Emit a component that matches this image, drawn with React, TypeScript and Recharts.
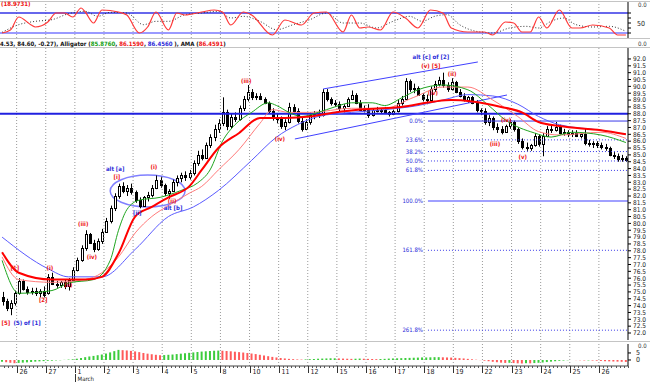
import React from 'react'
import {
  ComposedChart,
  Bar,
  Line,
  XAxis,
  YAxis,
  ReferenceLine,
  ReferenceDot,
  ReferenceArea,
  Cell,
} from 'recharts'

// hourly bars, 7 per session, first 4 bars belong to the session before "26"
const barsPerDay = 7
const firstDayBar = 4
const dayLabels = ['26', '27', '1', '2', '3', '4', '5', '8', '10', '11', '12', '15', '16', '17', '18', '19', '22', '23', '24', '25', '26']

const open = [
  74.6, 74.3, 73.8, 74.2,
  74.9, 75.8, 75.2, 75.0, 75.1, 74.9, 75.1,
  74.9, 76.1, 75.6, 75.5, 75.7, 75.4, 75.9,
  76.6, 77.3, 78.2, 79.2, 78.6, 78.1, 78.7,
  79.4, 80.2, 81.1, 82.0, 82.7, 82.4, 82.6,
  82.3, 81.7, 81.3, 81.9, 82.1, 82.6, 83.2,
  82.8, 82.2, 82.4, 83.0, 83.3, 83.5, 83.4,
  83.7, 84.4, 85.0, 84.8, 85.7, 86.3, 86.9,
  87.3, 88.1, 87.1, 87.8, 87.6, 88.4, 89.1,
  89.6, 89.2, 89.3, 89.1, 88.8, 88.2, 87.7,
  87.6, 87.1, 87.4, 88.5, 88.2, 87.5, 86.9,
  87.4, 87.9, 88.0, 87.9, 89.6, 89.1, 88.8,
  88.7, 88.4, 88.6, 89.1, 89.4, 88.8, 88.3,
  88.4, 87.9, 88.3, 88.2, 88.3, 88.1, 88.0,
  88.2, 88.8, 89.1, 90.4, 89.8, 89.9, 89.4,
  89.1, 89.0, 89.8, 90.2, 90.5, 90.1, 89.8,
  90.3, 89.6, 89.3, 89.0, 89.2, 88.8, 88.3,
  88.2, 87.4, 87.7, 87.0, 86.9, 86.7, 87.1,
  87.4, 86.9, 86.0, 85.6, 85.5, 85.7, 86.4,
  85.8, 86.4, 86.9, 86.8, 87.0, 86.6, 86.7,
  86.5, 86.6, 86.4, 86.5, 85.9, 85.8, 85.9,
  85.7, 85.6, 85.5, 85.0, 84.9, 84.7, 84.8,
]
const high = [
  75.0, 74.5, 74.4, 75.1,
  76.0, 75.9, 75.4, 75.3, 75.3, 75.2, 75.4,
  76.3, 76.4, 75.8, 75.8, 75.9, 76.0, 76.8,
  77.5, 78.4, 79.5, 79.3, 78.8, 78.9, 79.6,
  80.4, 81.3, 82.2, 82.9, 83.0, 82.8, 82.9,
  82.4, 81.9, 82.0, 82.3, 82.8, 83.5, 83.4,
  82.9, 82.5, 83.2, 83.5, 83.7, 83.8, 83.9,
  84.6, 85.3, 85.4, 85.9, 86.5, 87.2, 87.6,
  89.2, 88.3, 88.0, 88.1, 88.6, 89.3, 90.1,
  89.8, 89.5, 89.5, 89.2, 88.9, 88.4, 88.0,
  87.8, 87.6, 88.8, 88.7, 88.4, 87.7, 87.6,
  88.1, 88.2, 88.3, 89.8, 89.8, 89.2, 89.0,
  88.9, 88.7, 89.2, 89.7, 89.5, 89.0, 88.6,
  88.7, 88.4, 88.5, 88.4, 88.5, 88.2, 88.3,
  89.0, 89.3, 90.6, 90.5, 90.2, 90.0, 89.5,
  89.4, 90.0, 90.4, 90.7, 91.0, 90.3, 90.6,
  90.4, 89.8, 89.5, 89.3, 89.3, 89.0, 88.4,
  88.4, 87.9, 87.8, 87.3, 87.1, 87.2, 87.6,
  87.5, 87.0, 86.2, 85.9, 85.8, 86.6, 86.5,
  86.6, 87.1, 87.2, 87.4, 87.2, 86.9, 86.8,
  86.8, 86.8, 86.6, 86.9, 86.1, 86.0, 86.0,
  85.9, 85.8, 85.6, 85.2, 85.1, 85.0, 84.9,
]
const low = [
  74.0, 73.6, 73.3, 74.0,
  74.8, 75.1, 74.8, 74.8, 74.7, 74.6, 74.6,
  74.8, 75.5, 75.3, 75.3, 75.2, 75.1, 75.8,
  76.5, 77.2, 78.0, 78.5, 77.9, 78.0, 78.5,
  79.3, 80.0, 80.9, 81.8, 82.2, 82.0, 82.1,
  81.5, 81.1, 81.2, 81.6, 81.9, 82.5, 82.6,
  82.0, 81.8, 82.3, 82.7, 83.0, 83.1, 83.2,
  83.5, 84.2, 84.6, 84.7, 85.5, 86.0, 86.6,
  87.1, 86.8, 86.9, 87.4, 87.5, 88.2, 88.9,
  89.0, 89.0, 89.0, 88.7, 88.0, 87.5, 87.3,
  86.9, 86.8, 87.3, 88.0, 87.3, 86.7, 86.8,
  87.2, 87.6, 87.7, 87.8, 88.9, 88.6, 88.5,
  88.2, 88.1, 88.5, 89.0, 88.7, 88.2, 88.1,
  87.7, 87.8, 88.1, 88.0, 88.0, 87.8, 87.9,
  88.1, 88.6, 89.0, 89.6, 89.5, 89.3, 88.9,
  88.7, 88.9, 89.6, 90.0, 89.9, 89.6, 89.7,
  89.5, 89.2, 88.9, 88.8, 88.7, 88.1, 87.9,
  87.2, 87.1, 86.8, 86.6, 86.5, 86.6, 86.9,
  86.7, 85.8, 85.4, 85.3, 85.3, 85.6, 85.6,
  84.9, 86.3, 86.6, 86.7, 86.5, 86.4, 86.3,
  86.3, 86.3, 86.2, 85.7, 85.6, 85.5, 85.5,
  85.4, 85.3, 84.9, 84.7, 84.5, 84.5, 84.5,
]
const close = [
  74.3, 73.8, 74.2, 74.9,
  75.8, 75.2, 75.0, 75.1, 74.9, 75.1, 74.8,
  76.1, 75.6, 75.5, 75.7, 75.4, 75.9, 76.6,
  77.3, 78.2, 79.2, 78.6, 78.1, 78.7, 79.4,
  80.2, 81.1, 82.0, 82.7, 82.4, 82.6, 82.3,
  81.7, 81.3, 81.9, 82.1, 82.6, 83.2, 82.8,
  82.2, 82.4, 83.0, 83.3, 83.5, 83.4, 83.7,
  84.4, 85.0, 84.8, 85.7, 86.3, 86.9, 87.3,
  88.1, 87.1, 87.8, 87.6, 88.4, 89.1, 89.6,
  89.2, 89.3, 89.1, 88.8, 88.2, 87.7, 87.6,
  87.1, 87.4, 88.5, 88.2, 87.5, 86.9, 87.4,
  87.9, 88.0, 87.9, 89.6, 89.1, 88.8, 88.7,
  88.4, 88.6, 89.1, 89.4, 88.8, 88.3, 88.4,
  87.9, 88.3, 88.2, 88.3, 88.1, 88.0, 88.2,
  88.8, 89.1, 90.4, 89.8, 89.9, 89.4, 89.1,
  89.0, 89.8, 90.2, 90.5, 90.1, 89.8, 90.3,
  89.6, 89.3, 89.0, 89.2, 88.8, 88.3, 88.2,
  87.4, 87.7, 87.0, 86.9, 86.7, 87.1, 87.4,
  86.9, 86.0, 85.6, 85.5, 85.7, 86.4, 85.8,
  86.4, 86.9, 86.8, 87.0, 86.6, 86.7, 86.5,
  86.6, 86.4, 86.5, 85.9, 85.8, 85.9, 85.7,
  85.6, 85.5, 85.0, 84.9, 84.7, 84.8, 84.6,
]

// Alligator (jaw / teeth / lips) and AMA, read at selected bars
const jawBars = [0, 11, 16, 24, 32, 40, 46, 52, 60, 66, 71, 76, 84, 92, 100, 106, 112, 118, 124, 129, 134, 144, 150]
const jawValues = [79.0, 76.7, 76.1, 76.1, 78.1, 80.5, 81.2, 82.4, 84.6, 86.3, 87.2, 87.8, 88.1, 88.3, 88.6, 89.0, 89.4, 89.3, 88.7, 87.8, 87.2, 86.8, 86.5]
const teethBars = [0, 4, 12, 20, 24, 28, 32, 36, 40, 45, 48, 52, 57, 62, 65, 69, 74, 84, 92, 99, 106, 112, 118, 124, 129, 134, 144, 150]
const teethValues = [77.55, 75.9, 75.7, 75.9, 76.4, 77.55, 79.3, 80.5, 81.3, 82.2, 82.7, 83.9, 85.4, 87.3, 88.3, 88.1, 88.1, 88.4, 88.4, 89.2, 89.95, 89.95, 89.0, 87.8, 86.7, 86.45, 86.65, 86.2]
const lipsBars = [0, 4, 12, 16, 22, 26, 28, 30, 33, 38, 43, 47, 50, 53, 56, 60, 64, 66, 69, 72, 76, 80, 84, 89, 92, 96, 100, 106, 112, 117, 121, 128, 132, 137, 144, 150]
const lipsValues = [77.3, 74.9, 75.1, 75.65, 75.9, 77.3, 79.5, 81.0, 81.7, 81.9, 82.4, 82.95, 83.9, 86.0, 87.2, 88.1, 88.8, 88.6, 88.1, 87.8, 88.1, 88.5, 88.8, 88.8, 88.6, 89.15, 89.75, 90.1, 89.75, 88.6, 87.55, 86.6, 86.3, 86.65, 86.45, 85.9]
const amaBars = [0, 4, 12, 20, 24, 28, 32, 36, 40, 45, 48, 52, 57, 62, 68, 74, 80, 88, 96, 104, 108, 113, 120, 125, 129, 134, 144, 150]
const amaValues = [77.9, 76.4, 75.9, 75.9, 76.1, 77.8, 80.5, 81.2, 81.9, 82.7, 83.9, 85.5, 86.6, 87.7, 87.7, 87.8, 88.1, 88.35, 88.5, 88.9, 89.0, 88.9, 88.5, 88.1, 87.4, 87.1, 86.8, 86.5]

// stochastic %K / %D (top panel)
const kBars = [0, 2, 4, 7, 8, 11, 13, 15, 17, 19, 20, 22, 24, 28, 30, 33, 35, 37, 40, 42, 44, 48, 51, 53, 55, 58, 60, 65, 68, 72, 75, 78, 82, 84, 86, 88, 91, 94, 97, 100, 103, 106, 108, 112, 116, 118, 121, 123, 125, 127, 129, 131, 134, 137, 139, 142, 146, 148, 150]
const kValues = [20, 29, 68, 44, 38, 53, 80, 80, 68, 95, 83, 50, 89, 83, 74, 20, 38, 83, 29, 80, 74, 83, 89, 83, 44, 83, 74, 14, 59, 44, 80, 83, 23, 74, 35, 38, 29, 83, 65, 35, 89, 80, 35, 23, 23, 14, 53, 50, 23, 23, 68, 35, 89, 35, 35, 44, 35, 14, 14]
const dBars = [0, 4, 8, 12, 16, 20, 23, 26, 30, 34, 37, 40, 44, 48, 52, 55, 58, 62, 66, 70, 74, 78, 82, 86, 90, 94, 98, 101, 104, 107, 110, 114, 118, 122, 126, 129, 132, 135, 138, 142, 146, 150]
const dValues = [22, 45, 55, 60, 78, 85, 70, 82, 80, 45, 55, 55, 75, 80, 85, 65, 70, 55, 30, 45, 60, 80, 50, 50, 35, 55, 70, 55, 70, 75, 45, 25, 20, 35, 40, 35, 55, 65, 45, 38, 40, 25]

// histogram (bottom panel)
const histo = [
  -1.2, -1.6, -2.0, -2.3,
  -2.1, -1.9, -1.7, -1.4, -1.2, -1.0, -0.8,
  -0.6, -0.5, -0.3, -0.2, 0.1, 0.3, 0.5,
  0.9, 1.4, 2.0, 2.5, 2.9, 3.4, 3.9,
  4.6, 5.4, 6.3, 7.2, 7.0, 6.8, 6.5,
  6.1, 5.6, 5.0, 4.5, 4.1, 3.7, 3.4,
  3.5, 3.7, 3.9, 4.2, 4.5, 4.8, 5.1,
  5.4, 5.7, 6.0, 6.2, 6.4, 6.6, 6.7,
  6.6, 6.4, 6.2, 5.9, 5.6, 5.3, 5.0,
  4.6, 4.2, 3.7, 3.2, 2.7, 2.2, 1.8,
  1.4, 1.1, 0.8, 0.6, 0.4, 0.3, 0.4,
  0.6, 0.7, 0.9, 1.0, 1.1, 1.2, 1.2,
  1.1, 1.0, 0.9, 0.8, 0.9, 1.0, 0.9,
  0.8, 0.7, 0.6, 0.7, 0.8, 1.0, 1.1,
  1.2, 1.3, 1.4, 1.5, 1.6, 1.7, 1.8,
  1.8, 1.9, 2.0, 2.0, 1.9, 1.8, 1.7,
  1.5, 1.3, 1.1, 0.8, 0.5, 0.2, -0.1,
  -0.5, -0.9, -1.3, -1.6, -1.9, -2.1, -2.0,
  -2.2, -2.4, -2.5, -2.3, -2.4, -2.2, -2.0,
  -1.8, -1.5, -1.2, -0.9, -0.6, -0.4, -0.2,
  0.0, -0.1, -0.2, -0.3, -0.3, -0.4, -0.5,
  -0.7, -0.9, -1.0, -1.1, -1.2, -1.3, -1.4,
]

// annotations
const keyLevel = 88.0
const fibTop = 87.47
const fibBottom = 81.64
const fibRatios = [0, 23.6, 38.2, 50, 61.8, 100, 161.8, 261.8]
const fibStartBar = 102.4
const upperChanBars = [77.2, 114.4]
const upperChanPrices = [89.81, 91.78]
const lowerChanBars = [70.4, 121.4]
const lowerChanPrices = [86.16, 89.37]
const ellipseBars = [26, 44]
const ellipsePrices = [81.2, 83.53]

const waveText = ['[5]', '(5) of [1]', '[1]', '(i)', '[2]', '(ii)', '(iii)', '(iv)', 'alt [a]', '[i]', '(i)', '[ii]', '(ii)', 'alt [b]', '(iii)', '(iv)', 'alt [c] of [2]', '(v) [5]', '(iv)', '(ii)', '(iii)', '(iv)', '(v)']
const waveBar = [0.9, 6, 3.1, 11.5, 9.9, 15.9, 19.5, 21.6, 27.2, 27.6, 36.5, 32.5, 40.9, 41.1, 58.7, 66.8, 103.1, 103.1, 103.6, 108.2, 118.5, 121.2, 125.2]
const wavePrice = [72.73, 72.73, 76.74, 76.74, 74.41, 75.5, 79.96, 77.55, 83.97, 83.39, 84.12, 80.76, 81.64, 81.12, 90.39, 86.16, 92.15, 91.49, 89.52, 90.9, 85.8, 87.55, 84.85]
const waveAlt = [false, true, false, false, false, false, false, false, true, false, false, true, false, true, false, false, true, false, false, false, false, false, false]

const N = close.length
const domainX: [number, number] = [-0.5, N - 0.5]
const dayStarts = dayLabels.map((_, k) => firstDayBar + k * barsPerDay - 0.5)
const boundaries = Array.from({ length: N }, (_, i) => i + 0.5)
const priceTicks = Array.from({ length: 41 }, (_, k) => 72 + k * 0.5)

const toMap = (bars: number[], vals: number[]) => new Map(bars.map((b, k) => [b, vals[k]]))
const jawMap = toMap(jawBars, jawValues)
const teethMap = toMap(teethBars, teethValues)
const lipsMap = toMap(lipsBars, lipsValues)
const amaMap = toMap(amaBars, amaValues)
const kMap = toMap(kBars, kValues)
const dMap = toMap(dBars, dValues)

const rows = close.map((c, i) => ({
  i,
  open: open[i],
  high: high[i],
  low: low[i],
  close: c,
  range: [low[i], high[i]],
  jaw: jawMap.get(i) ?? null,
  teeth: teethMap.get(i) ?? null,
  lips: lipsMap.get(i) ?? null,
  ama: amaMap.get(i) ?? null,
  k: kMap.get(i) ?? null,
  d: dMap.get(i) ?? null,
  histo: histo[i],
}))

const FONT = "'DejaVu Sans Condensed', 'DejaVu Sans', sans-serif"
const RED = '#ee1111'
const BLUE = '#2a2ad8'

function Candle(props: any) {
  const { x, y, width, height } = props
  const d = props.payload ?? props
  if (d == null || x == null) return null
  const top = Math.min(y, y + height)
  const h = Math.abs(height)
  const span = d.high - d.low || 1
  const py = (v: number) => top + ((d.high - v) / span) * h
  const c = Math.round(x + width / 2) + 0.5
  const up = d.close >= d.open
  const bTop = Math.round(py(Math.max(d.open, d.close))) + 0.5
  const bBot = Math.round(py(Math.min(d.open, d.close))) + 0.5
  return (
    <g>
      <line x1={c} x2={c} y1={top} y2={top + h} stroke="#000" strokeWidth={1} />
      <rect x={c - 1} y={bTop} width={2} height={Math.max(bBot - bTop, 1)} fill={up ? '#fff' : '#000'} stroke="#000" strokeWidth={1} />
    </g>
  )
}

function DateTick(props: any) {
  const { x, y, payload } = props
  const k = dayStarts.indexOf(payload.value)
  const px = Math.round(x) + 0.5
  if (k < 0) return <line x1={px} x2={px} y1={y} y2={y + 2} stroke="#555" />
  return (
    <g>
      <line x1={px} x2={px} y1={y} y2={y + 7} stroke="#333" />
      <text x={px + 2} y={y + 8} fontSize={7} fontFamily={FONT} fill="#222">
        {dayLabels[k]}
      </text>
      {dayLabels[k] === '1' && (
        <g>
          <line x1={px} x2={px} y1={y + 8} y2={y + 16} stroke="#333" />
          <text x={px + 2} y={y + 15} fontSize={6} fontFamily={FONT} fill="#222">
            March
          </text>
        </g>
      )}
    </g>
  )
}

function OscTick(props: any) {
  const { x, y, payload } = props
  if (payload.value !== 50) return <g />
  return (
    <text x={x} y={y + 2.5} fontSize={7} fontFamily={FONT} fill="#222">
      50
    </text>
  )
}

function dayGrid(prefix: string) {
  return dayStarts.map((v) => (
    <ReferenceLine key={prefix + v} x={v} stroke="#9a9a9a" strokeDasharray="1 2" />
  ))
}

function HLine({ top }: { top: number }) {
  return <div style={{ position: 'absolute', left: 0, top, width: 650, height: 1, background: '#c4c4c4' }} />
}

function SmallText({ left, top, color, children }: any) {
  return (
    <div style={{ position: 'absolute', left, top, fontSize: 6, lineHeight: '7px', fontFamily: FONT, color, whiteSpace: 'nowrap' }}>
      {children}
    </div>
  )
}

export default function App() {
  const fibLevels = fibRatios.map((r) => fibTop - (r / 100) * (fibTop - fibBottom))
  return (
    <div style={{ position: 'absolute', left: 0, top: 0, width: 650, height: 382, background: '#fff', overflow: 'hidden' }}>
      <HLine top={1} />
      <HLine top={38} />
      <HLine top={47} />
      <HLine top={341} />

      {/* stochastic panel */}
      <div style={{ position: 'absolute', left: 0, top: 0 }}>
        <ComposedChart width={650} height={40} data={rows} margin={{ top: 2, right: 0, bottom: 2, left: 0 }}>
          <XAxis type="number" dataKey="i" domain={domainX} hide allowDataOverflow />
          <YAxis
            orientation="right"
            width={22}
            domain={[5, 113]}
            ticks={[20, 35, 50, 65, 80]}
            interval={0}
            tick={<OscTick />}
            tickSize={3}
            tickMargin={6}
            axisLine={{ stroke: '#000' }}
            tickLine={{ stroke: '#000' }}
            allowDataOverflow
          />
          {dayGrid('o')}
          <ReferenceLine y={80} stroke="#3434e6" strokeWidth={1.5} />
          <ReferenceLine y={20} stroke="#9a9aff" strokeWidth={2} />
          <Line dataKey="d" type="monotone" stroke="#333" strokeWidth={1} strokeDasharray="1 2" dot={false} connectNulls isAnimationActive={false} />
          <Line dataKey="k" type="monotone" stroke="#ff3a3a" strokeWidth={1.2} dot={false} connectNulls isAnimationActive={false} />
        </ComposedChart>
      </div>

      {/* price panel */}
      <div style={{ position: 'absolute', left: 0, top: 48 }}>
        <ComposedChart width={650} height={292} data={rows} margin={{ top: 0, right: 0, bottom: 0, left: 0 }}>
          <XAxis type="number" dataKey="i" domain={domainX} hide allowDataOverflow />
          <YAxis
            orientation="right"
            width={22}
            domain={[71.49, 92.8]}
            ticks={priceTicks}
            interval={0}
            tickFormatter={(v: number) => v.toFixed(1)}
            tick={{ fontSize: 6.5, fill: '#222', fontFamily: FONT }}
            tickSize={3}
            tickMargin={2}
            axisLine={{ stroke: '#000' }}
            tickLine={{ stroke: '#000' }}
            allowDataOverflow
          />
          {dayGrid('p')}
          <ReferenceLine y={keyLevel} stroke="#2020e0" strokeWidth={2} />
          {fibLevels.map((lv, k) => {
            const r = fibRatios[k]
            const solid = r === 0 || r === 100
            return (
              <ReferenceLine
                key={'f' + r}
                segment={[{ x: fibStartBar, y: lv }, { x: N - 0.5, y: lv }]}
                stroke={r === 100 ? '#a0a0ff' : '#3a3ae8'}
                strokeWidth={r === 100 ? 2 : 1}
                strokeDasharray={solid ? undefined : '1 2'}
              />
            )
          })}
          {fibLevels.map((lv, k) => (
            <ReferenceDot
              key={'fl' + k}
              x={fibStartBar}
              y={lv}
              r={1}
              shape={(p: any) => (
                <text x={p.cx - 5} y={p.cy + 2} textAnchor="end" fontSize={6} fontFamily={FONT} fill={BLUE}>
                  {fibRatios[k].toFixed(1) + '%'}
                </text>
              )}
            />
          ))}
          <ReferenceLine
            segment={[{ x: upperChanBars[0], y: upperChanPrices[0] }, { x: upperChanBars[1], y: upperChanPrices[1] }]}
            stroke="#4040ff"
          />
          <ReferenceLine
            segment={[{ x: lowerChanBars[0], y: lowerChanPrices[0] }, { x: lowerChanBars[1], y: lowerChanPrices[1] }]}
            stroke="#4040ff"
          />
          <ReferenceArea
            x1={ellipseBars[0]}
            x2={ellipseBars[1]}
            y1={ellipsePrices[0]}
            y2={ellipsePrices[1]}
            shape={(p: any) => (
              <ellipse cx={p.x + p.width / 2} cy={p.y + p.height / 2} rx={p.width / 2} ry={p.height / 2} fill="none" stroke="#8080ff" strokeWidth={1.5} />
            )}
          />
          <Bar dataKey="range" barSize={3} shape={<Candle />} isAnimationActive={false} />
          <Line dataKey="jaw" type="monotone" stroke="#5a5aff" strokeWidth={1} dot={false} connectNulls isAnimationActive={false} />
          <Line dataKey="teeth" type="monotone" stroke="#ff7b7b" strokeWidth={1} dot={false} connectNulls isAnimationActive={false} />
          <Line dataKey="lips" type="monotone" stroke="#1fa51f" strokeWidth={1} dot={false} connectNulls isAnimationActive={false} />
          <Line dataKey="ama" type="monotone" stroke="#ff0000" strokeWidth={2} dot={false} connectNulls isAnimationActive={false} />
          {waveText.map((t, k) => (
            <ReferenceDot
              key={'w' + k}
              x={waveBar[k]}
              y={wavePrice[k]}
              r={1}
              shape={(p: any) => (
                <text x={p.cx} y={p.cy + 2} textAnchor="middle" fontSize={6} fontWeight="bold" fontFamily={FONT} fill={waveAlt[k] ? BLUE : RED}>
                  {t}
                </text>
              )}
            />
          ))}
        </ComposedChart>
      </div>

      {/* histogram + date axis */}
      <div style={{ position: 'absolute', left: 0, top: 342 }}>
        <ComposedChart width={650} height={40} data={rows} margin={{ top: 2, right: 0, bottom: 0, left: 0 }}>
          <XAxis
            type="number"
            dataKey="i"
            domain={domainX}
            ticks={boundaries}
            interval={0}
            tick={<DateTick />}
            tickLine={false}
            tickSize={0}
            tickMargin={0}
            axisLine={{ stroke: '#444' }}
            height={16}
            allowDataOverflow
          />
          <YAxis
            orientation="right"
            width={22}
            domain={[-4.3, 11.4]}
            ticks={[0, 5]}
            interval={0}
            tick={{ fontSize: 7, fill: '#222', fontFamily: FONT }}
            tickSize={3}
            tickMargin={5}
            axisLine={{ stroke: '#000' }}
            tickLine={{ stroke: '#000' }}
            allowDataOverflow
          />
          {dayGrid('h')}
          <Bar dataKey="histo" barSize={2} isAnimationActive={false}>
            {rows.map((r, i) => (
              <Cell key={i} fill={i > 0 && r.histo < histo[i - 1] ? '#ff5a5a' : '#3ccc3c'} />
            ))}
          </Bar>
        </ComposedChart>
      </div>

      {/* header texts */}
      <SmallText left={1} top={0} color={RED}>
        <b>(18.9731)</b>
      </SmallText>
      <SmallText left={0} top={40} color="#111">
        <b>
          4.53, 84.60, -0.27), Alligator (<span style={{ color: '#12a012' }}>85.8760</span>,{' '}
          <span style={{ color: RED }}>86.1590</span>, <span style={{ color: BLUE }}>86.4560</span> ), AMA (
          <span style={{ color: RED }}>86.4591</span>)
        </b>
      </SmallText>
      <SmallText left={638} top={1} color="#333">0.0</SmallText>
      <SmallText left={638} top={40} color="#333">0.0</SmallText>
      <SmallText left={638} top={342} color="#333">0.0</SmallText>
    </div>
  )
}
